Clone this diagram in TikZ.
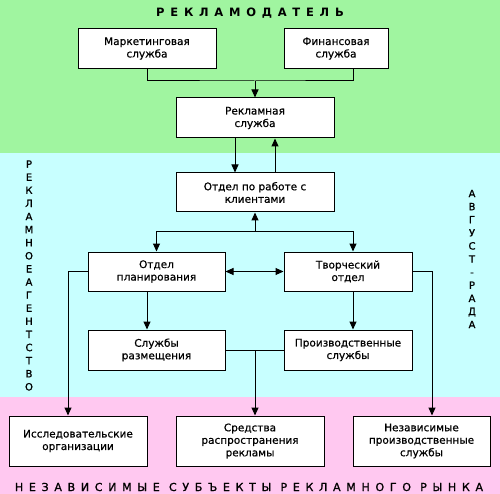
\documentclass[tikz,border=0pt]{standalone}
\usepackage{fontspec}
\setmainfont[FakeBold=0.6]{DejaVu Sans}
\newfontfamily\spacedfont[LetterSpace=52,FakeBold=1.2]{DejaVu Sans}
\newfontfamily\titlefont[LetterSpace=50]{DejaVu Sans Bold}
\newfontfamily\columnfont[FakeBold=1.2]{DejaVu Sans}
\usetikzlibrary{arrows.meta}
\definecolor{clientband}{RGB}{160,245,160}
\definecolor{agencyband}{RGB}{200,255,255}
\definecolor{marketband}{RGB}{255,200,240}
\tikzstyle{every path}=[line width=1pt]
\tikzstyle{unit}=[draw, fill=white, align=center, inner sep=0pt, font=\fontsize{10.5}{12.5}\selectfont]
\tikzstyle{link}=[-{Triangle[length=8pt,width=7pt]}]
\tikzstyle{twoway}=[{Triangle[length=8pt,width=7pt]}-{Triangle[length=8pt,width=7pt]}]
\tikzstyle{column}=[align=center, inner sep=0pt, font=\columnfont\fontsize{10}{13.1}\selectfont]

\begin{document}
\begin{tikzpicture}[x=1pt,y=-1pt]
            \useasboundingbox (0,0) rectangle (500,494);
            \fill[clientband] (0,0) rectangle (500,153);
            \fill[agencyband] (0,153) rectangle (500,397);
            \fill[marketband] (0,397) rectangle (500,494);

            \node[font=\titlefont\fontsize{11.5}{13}\selectfont] (advertiser) at (250,13) {РЕКЛАМОДАТЕЛЬ};
            \node[font=\spacedfont\fontsize{11}{13}\selectfont] (subjects) at (249,487) {НЕЗАВИСИМЫЕ СУБЪЕКТЫ РЕКЛАМНОГО РЫНКА};
            \node[column] (agency) at (29,275.5) {Р\\Е\\К\\Л\\А\\М\\Н\\О\\Е\\А\\Г\\Е\\Н\\Т\\С\\Т\\В\\О};
            \node[column] (agencyname) at (472,259) {А\\В\\Г\\У\\С\\Т\\-\\Р\\А\\Д\\А};

            \node[unit, minimum width=138pt, minimum height=40pt] (marketing) at (147,48.5) {Маркетинговая\\служба};
            \node[unit, minimum width=104pt, minimum height=40pt] (finance) at (336,48.5) {Финансовая\\служба};
            \node[unit, minimum width=158pt, minimum height=40pt] (adservice) at (255,118) {Рекламная\\служба};
            \node[unit, minimum width=158pt, minimum height=39pt] (accounts) at (255,192.5) {Отдел по работе с\\клиентами};
            \node[unit, minimum width=137pt, minimum height=39pt] (planning) at (156.5,271.5) {Отдел\\планирования};
            \node[unit, minimum width=128pt, minimum height=39pt] (creative) at (348,271.5) {Творческий\\отдел};
            \node[unit, minimum width=137pt, minimum height=40pt] (placement) at (156.5,350) {Службы\\размещения};
            \node[unit, minimum width=128pt, minimum height=40pt] (production) at (348,350) {Производственные\\службы};
            \node[unit, minimum width=138pt, minimum height=50pt] (research) at (78,441) {Исследовательские\\организации};
            \node[unit, minimum width=148pt, minimum height=50pt] (media) at (250,441) {Средства\\распространения\\рекламы};
            \node[unit, minimum width=137pt, minimum height=50pt] (independent) at (421.5,441) {Независимые\\производственные\\службы};

            \coordinate (topjoin) at (255,81);
            \coordinate (financeleg) at (353,68);
            \coordinate (midjoin) at (255,232);
            \coordinate (lowjoin) at (255,350);

            \draw (marketing.south) |- (topjoin) -| (financeleg);
            \draw[link] (topjoin) -- (adservice.north);
            \draw[link] ([xshift=-20pt]adservice.south) -- ([xshift=-20pt]accounts.north);
            \draw[link] ([xshift=20pt]accounts.north) -- ([xshift=20pt]adservice.south);
            \draw[link] (midjoin) -- (accounts.south);
            \draw[link] (midjoin) -| (planning.north);
            \draw[link] (midjoin) -| ([xshift=5pt]creative.north);
            \draw[twoway] (planning.east) -- (creative.west);
            \draw[link] (planning.west) -| ([xshift=-10pt]research.north);
            \draw[link] (creative.east) -| ([xshift=10.5pt]independent.north);
            \draw[link] ([xshift=-9.5pt]planning.south) -- ([xshift=-9.5pt]placement.north);
            \draw[link] ([xshift=5pt]creative.south) -- ([xshift=5pt]production.north);
            \draw (placement.east) -- (production.west);
            \draw[link] (lowjoin) -- (lowjoin |- media.north);
\end{tikzpicture}
\end{document}
